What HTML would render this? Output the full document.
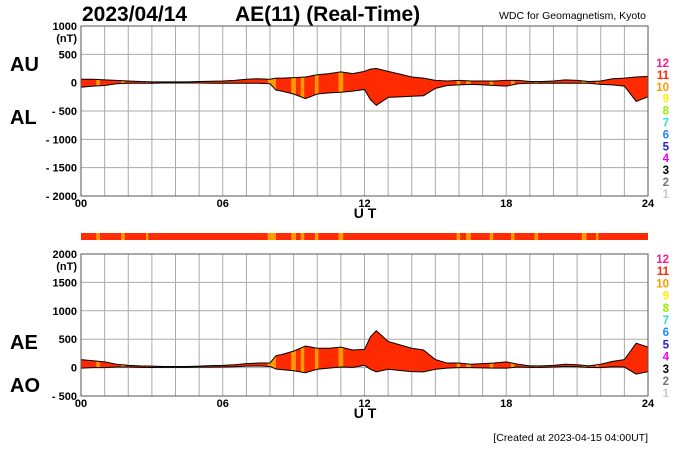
<!DOCTYPE html>
<html><head><meta charset="utf-8"><style>
body{margin:0;background:#fff;}
svg{display:block;font-family:"Liberation Sans",Arial,sans-serif;}
</style></head><body>
<svg id="c" width="700" height="450" viewBox="0 0 700 450"></svg>
<script>
const hours=[0,0.5,1,1.5,2,2.5,3,3.5,4,4.5,5,5.5,6,6.5,7,7.5,8,8.25,8.5,9,9.5,10,10.5,11,11.5,12,12.25,12.5,13,13.5,14,14.5,15,15.5,16,16.5,17,17.5,18,18.5,19,19.5,20,20.5,21,21.5,22,22.5,23,23.5,24];
const auValues=[60,60,50,40,30,20,15,15,15,15,20,25,30,40,60,70,60,80,80,90,100,140,160,190,160,200,240,250,200,150,100,80,40,30,40,30,30,30,40,40,20,20,30,50,40,20,30,70,80,100,110];
const alValues=[-80,-60,-50,-20,-10,-10,-10,-5,-5,-5,-5,-10,-10,-10,-10,-10,-20,-130,-150,-200,-280,-200,-180,-170,-150,-120,-300,-400,-260,-250,-240,-230,-100,-50,-40,-30,-40,-50,-60,-20,-10,-10,-10,-10,-10,-10,-30,-40,-60,-330,-250];
const orangeHours=[0.65,1.7,2.75,7.9,8.9,9.3,9.9,10.9,15.9,16.3,17.3,18.2,19.2,21.2,21.8];
const orangeWidths=[0.15,0.15,0.1,0.35,0.2,0.15,0.15,0.2,0.15,0.2,0.15,0.15,0.15,0.2,0.1];
const topTicks=[1000,500,0,-500,-1000,-1500,-2000];
const botTicks=[2000,1500,1000,500,0,-500];
const xTicks=[0,6,12,18,24];
const xTickLabels=["00","06","12","18","24"];
const legendLabels=["12","11","10","9","8","7","6","5","4","3","2","1"];
const legendColors=["#ff1a8c","#ff2a00","#ff9900","#ffee00","#99ee00","#33ddcc","#2288ff","#2222dd","#ee00ee","#000","#777","#ccc"];

const NS="http://www.w3.org/2000/svg";
const svg=document.getElementById('c');
function mk(t,a,p){const e=document.createElementNS(NS,t);for(const k in a)e.setAttribute(k,a[k]);(p||svg).appendChild(e);return e;}
const X0=81,X1=648;
const xs=h=>X0+(X1-X0)*h/24;

function txt(x,y,s,size,anchor,name,extra){const t=mk('text',Object.assign({x:x,y:y,'font-size':size,'text-anchor':anchor||'start','font-weight':'bold'},extra||{}));t.textContent=s;return t;}

txt(82,21,"2023/04/14",21,'start','date-title');
txt(235,21,"AE(11) (Real-Time)",21,'start','main-title');
txt(646,19,"WDC for Geomagnetism, Kyoto",10.5,'end','source-label',{'font-weight':'normal'});
txt(648,441,"[Created at 2023-04-15 04:00UT]",10.5,'end','created-label',{'font-weight':'normal'});

function panel(id,top,bot,vmax,vmin,ticks,upper,lower,lab1,lab2,l1y,l2y,legTop,legStep){
  const ys=v=>top+(bot-top)*(vmax-v)/(vmax-vmin);
  const g=mk('g',{});
  mk('rect',{x:X0,y:top,width:X1-X0,height:bot-top,fill:'#fff'},g);
  for(let h=1;h<24;h++){const l=mk('line',{x1:xs(h),x2:xs(h),y1:top,y2:bot,stroke:'#aaa','stroke-width':1},g);}
  ticks.forEach(v=>{if(v<vmax&&v>vmin){const l=mk('line',{x1:X0,x2:X1,y1:ys(v),y2:ys(v),stroke:'#aaa','stroke-width':1},g);}});
  let d='M'+hours.map((h,i)=>xs(h)+','+ys(upper[i])).join(' L');
  for(let i=hours.length-1;i>=0;i--)d+=' L'+xs(hours[i])+','+ys(lower[i]);
  d+='Z';
  const cp=mk('clipPath',{id:id+'-clip'},g);mk('path',{d:d},cp);
  const a=mk('path',{d:d,fill:'#ff2a00',stroke:'none'},g);
  const og=mk('g',{'clip-path':'url(#'+id+'-clip)'},g);
  orangeHours.forEach((h,i)=>{const r=mk('rect',{x:xs(h),y:top,width:xs(orangeWidths[i])-X0,height:bot-top,fill:'#ff9900'},og);});
  const up=mk('polyline',{points:hours.map((h,i)=>xs(h)+','+ys(upper[i])).join(' '),fill:'none',stroke:'#000','stroke-width':1},g);
  const lo=mk('polyline',{points:hours.map((h,i)=>xs(h)+','+ys(lower[i])).join(' '),fill:'none',stroke:'#000','stroke-width':1},g);
  const fr=mk('rect',{x:X0,y:top,width:X1-X0,height:bot-top,fill:'none',stroke:'#555','stroke-width':1},g);
  ticks.forEach(v=>{let s=v<0?'- '+(-v):String(v);txt(77,ys(v)+4,s,11,'end','y-tick-label');});
  txt(77,ys(ticks[0])+16,"(nT)",11,'end','y-unit-label');
  xTicks.forEach((h,i)=>txt(xs(h),bot+11,xTickLabels[i],11,'middle','x-tick-label'));
  txt(365,bot+22,"U T",14,'middle','x-axis-title');
  txt(10,l1y,lab1,20,'start','series-label-'+lab1.toLowerCase());
  txt(10,l2y,lab2,20,'start','series-label-'+lab2.toLowerCase());
  legendLabels.forEach((s,i)=>txt(669,legTop+i*legStep,s,11.5,'end','legend-entry-'+s,{fill:legendColors[i]}));
}
panel('top',26,196,1000,-2000,topTicks,auValues,alValues,"AU","AL",71,124,67,11.9);
const aeValues=auValues.map((u,i)=>u-alValues[i]);
const aoValues=auValues.map((u,i)=>(u+alValues[i])/2);
panel('bottom',254,396,2000,-500,botTicks,aeValues,aoValues,"AE","AO",349,392,263,12.2);

const cb=mk('g',{});
mk('rect',{x:X0,y:233,width:X1-X0,height:7,fill:'#ff2a00'},cb);
orangeHours.forEach((h,i)=>{const r=mk('rect',{x:xs(h),y:233,width:xs(orangeWidths[i])-X0,height:7,fill:'#ff9900'},cb);});
</script>
</body></html>
